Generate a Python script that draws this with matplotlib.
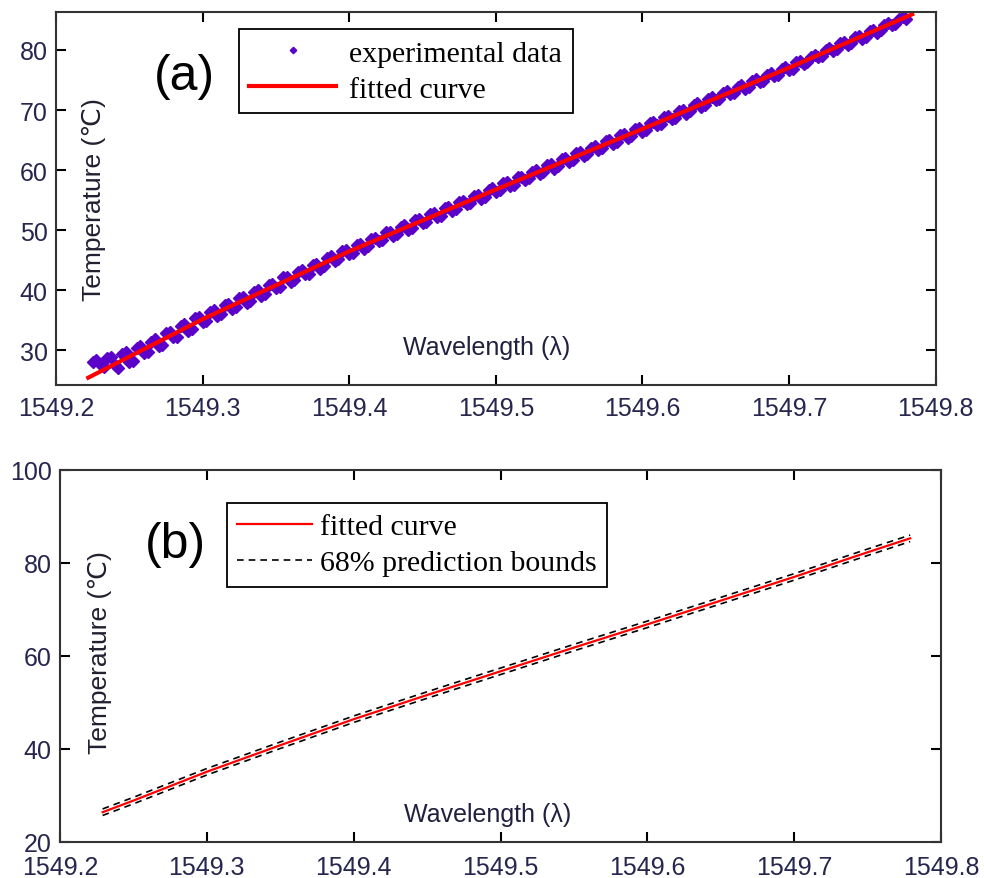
"""FBG temperature calibration: data + fit (a) and fit with prediction bounds (b)."""
import matplotlib
matplotlib.use('Agg')
import matplotlib.pyplot as plt

SANS = ['Liberation Sans', 'DejaVu Sans']
SERIF = ['Liberation Serif', 'DejaVu Serif']
TICK_C = '#26264e'
PURPLE = '#5a00c8'

exp_wl_a = [1549.225 + 0.005 * i for i in range(112)]
exp_temp_a = [
    28.0, 27.7, 28.6, 27.5, 29.4, 28.0, 30.3, 29.5, 31.4, 30.6,
    32.9, 32.1, 34.0, 33.1, 35.3, 34.7, 36.4, 35.7, 37.5, 36.9,
    38.7, 37.9, 39.6, 39.0, 40.8, 40.4, 42.1, 41.3, 43.0, 42.6,
    44.2, 43.5, 45.3, 44.8, 46.5, 46.0, 47.5, 46.9, 48.5, 48.1,
    49.6, 49.0, 50.5, 50.0, 51.6, 51.2, 52.7, 52.1, 53.6, 53.2,
    54.7, 54.3, 55.7, 55.1, 56.6, 56.3, 57.8, 57.4, 58.9, 58.3,
    59.7, 59.3, 60.8, 60.2, 61.8, 61.4, 62.8, 62.3, 63.7, 63.3,
    64.8, 64.4, 65.8, 65.3, 66.8, 66.4, 67.8, 67.5, 68.9, 68.5,
    69.8, 69.4, 70.8, 70.5, 71.9, 71.6, 72.9, 72.6, 73.9, 73.5,
    74.9, 74.6, 75.9, 75.6, 76.9, 76.7, 78.0, 77.7, 78.9, 78.8,
    80.0, 79.8, 81.1, 80.8, 82.1, 81.9, 83.2, 82.9, 84.2, 84.1,
    85.2, 85.2,
]
exp_wl_b = [1549.2275 + 0.005 * i for i in range(111)]
exp_temp_b = [
    28.3, 27.2, 28.9, 27.0, 29.6, 28.2, 30.6, 29.6, 31.9, 30.9,
    33.0, 32.2, 34.3, 33.5, 35.5, 34.8, 36.6, 36.0, 37.7, 37.1,
    38.8, 38.2, 40.0, 39.4, 41.0, 40.5, 42.1, 41.7, 43.3, 42.7,
    44.4, 44.0, 45.6, 45.1, 46.6, 46.2, 47.7, 47.3, 48.7, 48.3,
    49.7, 49.3, 50.8, 50.4, 51.8, 51.4, 52.8, 52.4, 53.9, 53.5,
    54.9, 54.5, 55.9, 55.5, 57.0, 56.6, 58.0, 57.5, 58.9, 58.6,
    60.0, 59.6, 61.0, 60.6, 62.0, 61.6, 63.0, 62.6, 64.0, 63.6,
    65.0, 64.7, 66.0, 65.7, 67.0, 66.7, 68.0, 67.7, 69.0, 68.7,
    70.0, 69.8, 71.1, 70.8, 72.1, 71.8, 73.1, 72.8, 74.1, 73.8,
    75.1, 74.9, 76.1, 75.9, 77.1, 76.9, 78.2, 78.0, 79.2, 79.0,
    80.3, 80.1, 81.3, 81.2, 82.4, 82.2, 83.4, 83.3, 84.5, 84.4,
    85.5,
]

# ---- (a) fitted curve ----
fit_wl = [1549.222, 1549.25, 1549.30, 1549.35, 1549.40, 1549.45, 1549.50,
          1549.55, 1549.60, 1549.65, 1549.70, 1549.75, 1549.784]
fit_temp = [25.4, 28.9, 35.15, 40.8, 46.45, 51.6, 56.75,
            61.8, 66.85, 71.95, 77.05, 82.35, 85.95]

# ---- (b) fitted curve and 68% prediction bounds ----
b_wl = [1549.229, 1549.25, 1549.30, 1549.35, 1549.40, 1549.45, 1549.50,
        1549.55, 1549.60, 1549.65, 1549.70, 1549.75, 1549.779]
b_fit = [26.4, 28.9, 35.1, 40.8, 46.4, 51.6, 56.7,
         61.8, 66.8, 71.9, 77.0, 82.3, 85.3]
b_upper = [27.1, 29.6, 35.8, 41.5, 47.1, 52.3, 57.4,
           62.5, 67.5, 72.6, 77.7, 83.0, 86.0]
b_lower = [25.7, 28.2, 34.4, 40.1, 45.7, 50.9, 56.0,
           61.1, 66.1, 71.2, 76.3, 81.6, 84.6]

xticks = [1549.2, 1549.3, 1549.4, 1549.5, 1549.6, 1549.7, 1549.8]
xticklabels = ['1549.2', '1549.3', '1549.4', '1549.5', '1549.6', '1549.7', '1549.8']

fig = plt.figure(figsize=(9.84, 8.79), dpi=100)
ax1 = fig.add_axes([0.0569, 0.561, 0.894, 0.424])
ax2 = fig.add_axes([0.061, 0.041, 0.8953, 0.4232])


def style(ax, yticks, xpad):
    ax.set_xlim(1549.2, 1549.8)
    ax.set_xticks(xticks)
    ax.set_xticklabels(xticklabels)
    ax.set_yticks(yticks)
    ax.set_yticklabels([str(v) for v in yticks])
    ax.tick_params(direction='in', length=7, width=1.5, top=True, right=True,
                   labelsize=18, labelcolor=TICK_C, pad=6)
    ax.tick_params(axis='x', pad=xpad)
    for lab in ax.get_xticklabels() + ax.get_yticklabels():
        lab.set_family(SANS)
    for sp in ax.spines.values():
        sp.set_color('#333333')
        sp.set_linewidth(1.5)


leg_kw = dict(loc='upper left', borderaxespad=0, fancybox=False, framealpha=1,
              edgecolor='black', prop={'family': SERIF, 'size': 21.5},
              borderpad=0.35, labelspacing=0.3)

# (a)
ax1.plot(exp_wl_a, exp_temp_a, 'D', ls='none', ms=6.5, color=PURPLE, mec=PURPLE,
         label='experimental data')
ax1.plot(exp_wl_b, exp_temp_b, 'D', ls='none', ms=6.5, color=PURPLE, mec=PURPLE)
ax1.plot(fit_wl, fit_temp, '-', color='#ff0000', lw=3, label='fitted curve')
ax1.set_ylim(24.2, 86.3)
style(ax1, [30, 40, 50, 60, 70, 80], 8)
ax1.legend(bbox_to_anchor=(0.208, 0.954), numpoints=1, markerscale=0.5,
           handlelength=2.9, handletextpad=0.45, **leg_kw)
ax1.get_legend().get_frame().set_linewidth(1.3)
ax1.text(0.1455, 0.828, '(a)', transform=ax1.transAxes, ha='center', va='center',
         fontsize=36, family=SANS)
ax1.text(0.0432, 0.501, 'Temperature (℃)', transform=ax1.transAxes, rotation=90,
         ha='center', va='center', fontsize=19, family=SANS, color='#202030')
ax1.text(0.49, 0.102, 'Wavelength (λ)', transform=ax1.transAxes,
         ha='center', va='center', fontsize=18, family=SANS, color='#202040')

# (b)
ax2.plot(b_wl, b_fit, '-', color='#ff0000', lw=1.6, label='fitted curve')
ax2.plot(b_wl, b_upper, color='black', lw=1.2, ls=(0, (4, 3)),
         label='68% prediction bounds')
ax2.plot(b_wl, b_lower, color='black', lw=1.2, ls=(0, (4, 3)))
ax2.set_ylim(20, 100)
style(ax2, [20, 40, 60, 80, 100], 9.5)
ax2.legend(bbox_to_anchor=(0.1895, 0.911), handlelength=2.5,
           handletextpad=0.25, **leg_kw)
ax2.get_legend().get_frame().set_linewidth(1.3)
ax2.text(0.1305, 0.801, '(b)', transform=ax2.transAxes, ha='center', va='center',
         fontsize=36, family=SANS)
ax2.text(0.0454, 0.511, 'Temperature (℃)', transform=ax2.transAxes, rotation=90,
         ha='center', va='center', fontsize=19, family=SANS, color='#202030')
ax2.text(0.485, 0.075, 'Wavelength (λ)', transform=ax2.transAxes,
         ha='center', va='center', fontsize=18, family=SANS, color='#202040')

fig.savefig('out.png', dpi=100)
